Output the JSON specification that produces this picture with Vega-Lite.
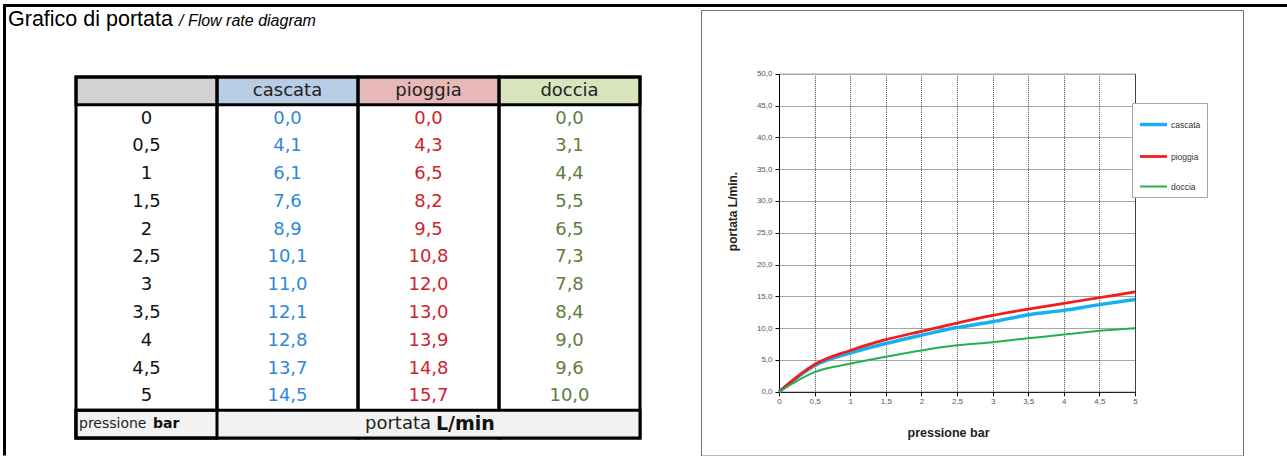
{
 "$schema": "https://vega.github.io/schema/vega-lite/v6.json",
 "padding": {"left": 3, "top": 4, "right": 0, "bottom": 0},
 "autosize": {"type": "pad"},
 "background": "#ffffff",
 "datasets": {
  "flow": [
   {"p": 0, "cascata": 0.0, "pioggia": 0.0, "doccia": 0.0},
   {"p": 0.5, "cascata": 4.1, "pioggia": 4.3, "doccia": 3.1},
   {"p": 1, "cascata": 6.1, "pioggia": 6.5, "doccia": 4.4},
   {"p": 1.5, "cascata": 7.6, "pioggia": 8.2, "doccia": 5.5},
   {"p": 2, "cascata": 8.9, "pioggia": 9.5, "doccia": 6.5},
   {"p": 2.5, "cascata": 10.1, "pioggia": 10.8, "doccia": 7.3},
   {"p": 3, "cascata": 11.0, "pioggia": 12.0, "doccia": 7.8},
   {"p": 3.5, "cascata": 12.1, "pioggia": 13.0, "doccia": 8.4},
   {"p": 4, "cascata": 12.8, "pioggia": 13.9, "doccia": 9.0},
   {"p": 4.5, "cascata": 13.7, "pioggia": 14.8, "doccia": 9.6},
   {"p": 5, "cascata": 14.5, "pioggia": 15.7, "doccia": 10.0}
  ],
  "cols": [
   {"col": "c0", "label": ""},
   {"col": "cascata", "label": "cascata"},
   {"col": "pioggia", "label": "pioggia"},
   {"col": "doccia", "label": "doccia"}
  ]
 },
 "columns": 6,
 "spacing": 0,
 "bounds": "flush",
 "resolve": {"scale": {"stroke": "independent", "strokeWidth": "independent", "fill": "independent", "color": "independent"}, "legend": {"stroke": "independent", "strokeWidth": "independent"}},
 "concat": [
  {"width": 1, "height": 1, "data": {"values": []}, "mark": "point", "view": {"stroke": "#000000", "strokeWidth": 2}},
  {"width": 71, "height": 1, "data": {"values": []}, "mark": "point", "view": {"stroke": "#000000", "strokeWidth": 2},
   "title": {"text": "Grafico di portata", "orient": "bottom", "anchor": "start", "frame": "group", "dx": 3, "offset": 3, "baseline": "top", "font": "Liberation Sans", "fontSize": 21.5, "fontWeight": "normal", "color": "#000000"}},
  {"width": 564, "height": 1, "data": {"values": []}, "mark": "point", "view": {"stroke": "#000000", "strokeWidth": 2},
   "title": {"text": "/ Flow rate diagram", "orient": "bottom", "anchor": "start", "frame": "group", "dx": 103, "offset": 7, "baseline": "top", "font": "Liberation Sans", "fontSize": 16, "fontStyle": "italic", "fontWeight": "normal", "color": "#000000"}},
  {"width": 61, "height": 1, "data": {"values": []}, "mark": "point", "view": {"stroke": "#000000", "strokeWidth": 2}},
  {"width": 542, "height": 1, "data": {"values": []}, "mark": "point", "view": {"stroke": "#000000", "strokeWidth": 2}},
  {"width": 43, "height": 1, "data": {"values": []}, "mark": "point", "view": {"stroke": "#000000", "strokeWidth": 2}},

  {"width": 1, "height": 4, "data": {"values": []}, "mark": "point", "view": {"stroke": "#000000", "strokeWidth": 2}},
  {"width": 71, "height": 4, "data": {"values": []}, "mark": "point"},
  {"width": 564, "height": 4, "data": {"values": []}, "mark": "point"},
  {"width": 61, "height": 4, "data": {"values": []}, "mark": "point"},
  {"width": 542, "height": 4, "data": {"values": []}, "mark": "point"},
  {"width": 43, "height": 4, "data": {"values": []}, "mark": "point"},

  {"width": 1, "height": 444.5, "data": {"values": []}, "mark": "point", "view": {"stroke": "#000000", "strokeWidth": 2}},
  {"width": 71, "height": 10, "data": {"values": []}, "mark": "point"},
  {
   "width": 564, "height": 428,
   "layer": [
    {
     "data": {"name": "cols"},
     "mark": {"type": "rect"},
     "encoding": {
      "x": {"field": "col", "type": "nominal", "scale": {"type": "band", "domain": ["c0", "cascata", "pioggia", "doccia"], "paddingInner": 0, "paddingOuter": 0}, "axis": null},
      "y": {"datum": "hdr", "type": "ordinal", "scale": {"type": "band", "domain": ["pre", "hdr", 0, 0.5, 1, 1.5, 2, 2.5, 3, 3.5, 4, 4.5, 5, "foot"], "paddingInner": 0, "paddingOuter": 0.7063, "align": 1}, "axis": null},
      "fill": {"field": "col", "type": "nominal", "scale": {"domain": ["c0", "cascata", "pioggia", "doccia"], "range": ["#d2d2d2", "#b8cce4", "#e6b8b7", "#d8e4bc"]}, "legend": null}
     }
    },
    {
     "data": {"name": "cols"},
     "mark": {"type": "rect", "filled": false, "stroke": "#000000", "strokeWidth": 3},
     "encoding": {
      "x": {"field": "col", "type": "nominal", "scale": {"type": "band", "domain": ["c0", "cascata", "pioggia", "doccia"], "paddingInner": 0, "paddingOuter": 0}, "axis": null},
      "y": {"datum": "hdr", "type": "ordinal", "bandPosition": 0, "scale": {"type": "band", "domain": ["pre", "hdr", 0, 0.5, 1, 1.5, 2, 2.5, 3, 3.5, 4, 4.5, 5, "foot"], "paddingInner": 0, "paddingOuter": 0.7063, "align": 1}, "axis": null},
      "y2": {"datum": "foot", "bandPosition": 1}
     }
    },
    {
     "data": {"name": "cols"},
     "mark": {"type": "rect", "fill": "#f2f2f2"},
     "encoding": {
      "x": {"field": "col", "type": "nominal", "scale": {"type": "band", "domain": ["c0", "cascata", "pioggia", "doccia"], "paddingInner": 0, "paddingOuter": 0}, "axis": null},
      "y": {"datum": "foot", "type": "ordinal", "scale": {"type": "band", "domain": ["pre", "hdr", 0, 0.5, 1, 1.5, 2, 2.5, 3, 3.5, 4, 4.5, 5, "foot"], "paddingInner": 0, "paddingOuter": 0.7063, "align": 1}, "axis": null}
     }
    },
    {
     "data": {"values": [{}]},
     "mark": {"type": "rect", "filled": false, "stroke": "#000000", "strokeWidth": 3},
     "encoding": {
      "y": {"datum": "foot", "type": "ordinal", "scale": {"type": "band", "domain": ["pre", "hdr", 0, 0.5, 1, 1.5, 2, 2.5, 3, 3.5, 4, 4.5, 5, "foot"], "paddingInner": 0, "paddingOuter": 0.7063, "align": 1}, "axis": null}
     }
    },
    {
     "data": {"values": [{}]},
     "mark": {"type": "rect", "filled": false, "stroke": "#000000", "strokeWidth": 3},
     "encoding": {
      "x": {"datum": "c0", "type": "nominal", "scale": {"type": "band", "domain": ["c0", "cascata", "pioggia", "doccia"], "paddingInner": 0, "paddingOuter": 0}, "axis": null},
      "y": {"datum": "foot", "type": "ordinal", "scale": {"type": "band", "domain": ["pre", "hdr", 0, 0.5, 1, 1.5, 2, 2.5, 3, 3.5, 4, 4.5, 5, "foot"], "paddingInner": 0, "paddingOuter": 0.7063, "align": 1}, "axis": null}
     }
    },
    {
     "data": {"values": [{}]},
     "mark": {"type": "rect", "filled": false, "stroke": "#000000", "strokeWidth": 3},
     "encoding": {
      "y": {"datum": "hdr", "type": "ordinal", "scale": {"type": "band", "domain": ["pre", "hdr", 0, 0.5, 1, 1.5, 2, 2.5, 3, 3.5, 4, 4.5, 5, "foot"], "paddingInner": 0, "paddingOuter": 0.7063, "align": 1}, "axis": null}
     }
    },
    {
     "data": {"name": "cols"},
     "mark": {"type": "text", "font": "DejaVu Sans", "fontSize": 18, "color": "#222222", "baseline": "middle"},
     "encoding": {
      "x": {"field": "col", "type": "nominal", "scale": {"type": "band", "domain": ["c0", "cascata", "pioggia", "doccia"], "paddingInner": 0, "paddingOuter": 0}, "axis": null},
      "y": {"datum": "hdr", "type": "ordinal", "scale": {"type": "band", "domain": ["pre", "hdr", 0, 0.5, 1, 1.5, 2, 2.5, 3, 3.5, 4, 4.5, 5, "foot"], "paddingInner": 0, "paddingOuter": 0.7063, "align": 1}, "axis": null},
      "text": {"field": "label", "type": "nominal"}
     }
    },
    {
     "data": {"name": "flow"},
     "mark": {"type": "text", "font": "DejaVu Sans", "fontSize": 18, "color": "#111111", "baseline": "middle"},
     "encoding": {
      "x": {"datum": "c0", "type": "nominal", "scale": {"type": "band", "domain": ["c0", "cascata", "pioggia", "doccia"], "paddingInner": 0, "paddingOuter": 0}, "axis": null},
      "y": {"field": "p", "type": "ordinal", "scale": {"type": "band", "domain": ["pre", "hdr", 0, 0.5, 1, 1.5, 2, 2.5, 3, 3.5, 4, 4.5, 5, "foot"], "paddingInner": 0, "paddingOuter": 0.7063, "align": 1}, "axis": null},
      "text": {"field": "p", "type": "quantitative", "format": "~g"}
     }
    },
    {
     "data": {"name": "flow"},
     "transform": [{"fold": ["cascata", "pioggia", "doccia"], "as": ["serie", "valore"]}],
     "mark": {"type": "text", "font": "DejaVu Sans", "fontSize": 18, "baseline": "middle"},
     "encoding": {
      "x": {"field": "serie", "type": "nominal", "scale": {"type": "band", "domain": ["c0", "cascata", "pioggia", "doccia"], "paddingInner": 0, "paddingOuter": 0}, "axis": null},
      "y": {"field": "p", "type": "ordinal", "scale": {"type": "band", "domain": ["pre", "hdr", 0, 0.5, 1, 1.5, 2, 2.5, 3, 3.5, 4, 4.5, 5, "foot"], "paddingInner": 0, "paddingOuter": 0.7063, "align": 1}, "axis": null},
      "text": {"field": "valore", "type": "quantitative", "format": ".1f"},
      "color": {"field": "serie", "type": "nominal", "scale": {"domain": ["cascata", "pioggia", "doccia"], "range": ["#2f88d8", "#d0222b", "#5f7d3b"]}, "legend": null}
     }
    },
    {
     "data": {"values": [{"t": "pressione"}]},
     "mark": {"type": "text", "font": "DejaVu Sans", "fontSize": 14, "color": "#222222", "align": "left", "baseline": "middle", "dx": -67.5},
     "encoding": {
      "x": {"datum": "c0", "type": "nominal", "scale": {"type": "band", "domain": ["c0", "cascata", "pioggia", "doccia"], "paddingInner": 0, "paddingOuter": 0}, "axis": null},
      "y": {"datum": "foot", "type": "ordinal", "scale": {"type": "band", "domain": ["pre", "hdr", 0, 0.5, 1, 1.5, 2, 2.5, 3, 3.5, 4, 4.5, 5, "foot"], "paddingInner": 0, "paddingOuter": 0.7063, "align": 1}, "axis": null},
      "text": {"field": "t", "type": "nominal"}
     }
    },
    {
     "data": {"values": [{"t": "bar"}]},
     "mark": {"type": "text", "font": "DejaVu Sans", "fontSize": 14, "fontWeight": "bold", "color": "#111111", "align": "left", "baseline": "middle", "dx": 6.5},
     "encoding": {
      "x": {"datum": "c0", "type": "nominal", "scale": {"type": "band", "domain": ["c0", "cascata", "pioggia", "doccia"], "paddingInner": 0, "paddingOuter": 0}, "axis": null},
      "y": {"datum": "foot", "type": "ordinal", "scale": {"type": "band", "domain": ["pre", "hdr", 0, 0.5, 1, 1.5, 2, 2.5, 3, 3.5, 4, 4.5, 5, "foot"], "paddingInner": 0, "paddingOuter": 0.7063, "align": 1}, "axis": null},
      "text": {"field": "t", "type": "nominal"}
     }
    },
    {
     "data": {"values": [{"t": "portata"}]},
     "mark": {"type": "text", "font": "DejaVu Sans", "fontSize": 18, "color": "#222222", "align": "right", "baseline": "middle", "dx": 2.5},
     "encoding": {
      "x": {"datum": "pioggia", "type": "nominal", "scale": {"type": "band", "domain": ["c0", "cascata", "pioggia", "doccia"], "paddingInner": 0, "paddingOuter": 0}, "axis": null},
      "y": {"datum": "foot", "type": "ordinal", "scale": {"type": "band", "domain": ["pre", "hdr", 0, 0.5, 1, 1.5, 2, 2.5, 3, 3.5, 4, 4.5, 5, "foot"], "paddingInner": 0, "paddingOuter": 0.7063, "align": 1}, "axis": null},
      "text": {"field": "t", "type": "nominal"}
     }
    },
    {
     "data": {"values": [{"t": "L/min"}]},
     "mark": {"type": "text", "font": "DejaVu Sans", "fontSize": 19, "fontWeight": "bold", "color": "#111111", "align": "left", "baseline": "middle", "dx": 7.5},
     "encoding": {
      "x": {"datum": "pioggia", "type": "nominal", "scale": {"type": "band", "domain": ["c0", "cascata", "pioggia", "doccia"], "paddingInner": 0, "paddingOuter": 0}, "axis": null},
      "y": {"datum": "foot", "type": "ordinal", "scale": {"type": "band", "domain": ["pre", "hdr", 0, 0.5, 1, 1.5, 2, 2.5, 3, 3.5, 4, 4.5, 5, "foot"], "paddingInner": 0, "paddingOuter": 0.7063, "align": 1}, "axis": null},
      "text": {"field": "t", "type": "nominal"}
     }
    }
   ]
  },
  {"width": 61, "height": 10, "data": {"values": []}, "mark": "point"},
  {
   "width": 542, "height": 445.5,
   "view": {"stroke": "#707070", "strokeWidth": 1, "fill": "#ffffff"},
   "data": {"name": "flow"},
   "transform": [{"fold": ["cascata", "pioggia", "doccia"], "as": ["serie", "valore"]}],
   "resolve": {"axis": {"x": "independent", "y": "independent"}},
   "layer": [
    {
     "mark": {"type": "line", "interpolate": "monotone"},
     "encoding": {
      "x": {
       "field": "p", "type": "quantitative",
       "scale": {"domain": [0, 5], "range": [78, 434], "nice": false, "zero": false},
       "axis": {"orient": "bottom", "values": [0, 0.5, 1, 1.5, 2, 2.5, 3, 3.5, 4, 4.5, 5], "format": "~g", "offset": -63.7, "grid": true, "gridColor": "#4d4d4d", "gridDash": [1, 1], "gridWidth": 1, "domainColor": "#000000", "domainWidth": 1, "tickColor": "#000000", "tickSize": 4, "labelFlush": false, "labelFont": "Liberation Sans", "labelFontSize": 8, "labelColor": "#555555", "labelPadding": 2, "title": "pressione  bar", "titleFont": "Liberation Sans", "titleFontSize": 12.5, "titleFontWeight": "bold", "titleColor": "#222222", "titleX": 247, "titleY": 35, "titleBaseline": "top"}
      },
      "y": {
       "field": "valore", "type": "quantitative",
       "scale": {"domain": [0, 50], "range": [381.8, 63.7], "nice": false, "zero": false},
       "axis": {"orient": "left", "values": [0, 5, 10, 15, 20, 25, 30, 35, 40, 45, 50], "format": ".1f", "offset": -78, "grid": true, "gridColor": "#4d4d4d", "gridDash": [1, 1], "gridWidth": 1, "domainColor": "#000000", "domainWidth": 1, "tickColor": "#000000", "tickSize": 4, "labelFont": "Liberation Sans", "labelFontSize": 8, "labelColor": "#555555", "labelPadding": 3, "title": "portata  L/min.", "titleFont": "Liberation Sans", "titleFontSize": 12, "titleFontWeight": "bold", "titleColor": "#222222", "titleX": -39.5, "titleY": 201}
      },
      "stroke": {
       "field": "serie", "type": "nominal",
       "scale": {"domain": ["cascata", "pioggia", "doccia"], "range": ["#16b0f0", "#f21c1c", "#22b14c"]},
       "legend": {"orient": "none", "legendX": 431, "legendY": 93, "title": null, "symbolType": "stroke", "symbolSize": 729, "labelFont": "Liberation Sans", "labelFontSize": 8.5, "labelColor": "#333333", "fillColor": "#ffffff", "strokeColor": "#a6a6a6", "padding": 6, "rowPadding": 9.5, "labelOffset": 2}
      },
      "strokeWidth": {
       "field": "serie", "type": "nominal",
       "scale": {"domain": ["cascata", "pioggia", "doccia"], "range": [3.5, 2, 2]},
       "legend": {"orient": "none", "legendX": 431, "legendY": 93, "title": null, "symbolType": "stroke", "symbolSize": 729, "labelFont": "Liberation Sans", "labelFontSize": 8.5, "labelColor": "#333333", "fillColor": "#ffffff", "strokeColor": "#a6a6a6", "padding": 6, "rowPadding": 9.5, "labelOffset": 2}
      }
     }
    },
    {
     "mark": {"type": "line", "strokeOpacity": 0},
     "encoding": {
      "x": {"field": "p", "type": "quantitative", "axis": {"orient": "top", "offset": -63.7, "domain": true, "domainColor": "#a6a6a6", "domainWidth": 1.5, "ticks": false, "labels": false, "grid": false, "title": null}},
      "y": {"field": "valore", "type": "quantitative", "axis": {"orient": "right", "offset": -108, "domain": true, "domainColor": "#404040", "domainWidth": 1, "ticks": false, "labels": false, "grid": false, "title": null}},
      "detail": {"field": "serie", "type": "nominal"}
     }
    }
   ]
  },
  {"width": 43, "height": 10, "data": {"values": []}, "mark": "point"}
 ],
 "config": {
  "view": {"stroke": null},
  "locale": {"number": {"decimal": ",", "thousands": ".", "grouping": [3], "currency": ["", " €"]}}
 }
}
